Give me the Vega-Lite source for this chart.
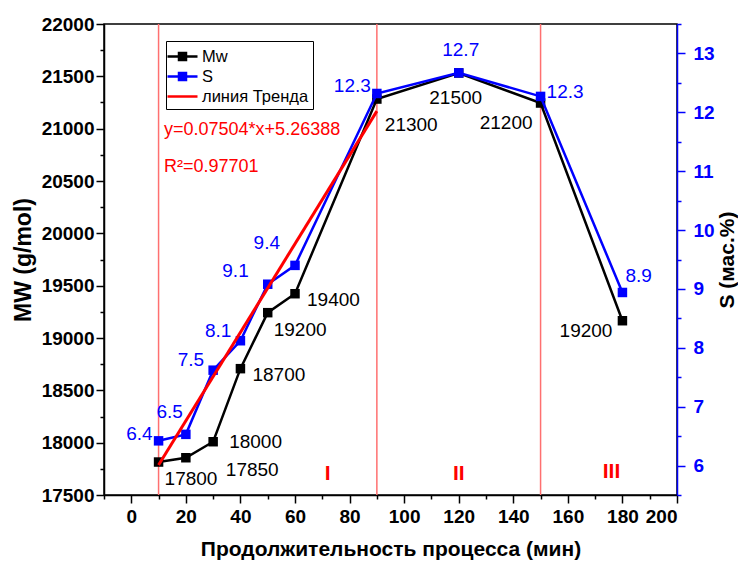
{
  "$schema": "https://vega.github.io/schema/vega-lite/v6.json",
  "width": 573,
  "height": 471,
  "autosize": {"type": "none"},
  "padding": {"left": 104, "top": 24, "right": 61, "bottom": 71},
  "background": "white",
  "config": {
    "font": "Liberation Sans",
    "view": {"stroke": "black", "strokeWidth": 1.5},
    "axis": {
      "grid": false,
      "domainColor": "black",
      "tickColor": "black",
      "labelFont": "Liberation Sans",
      "labelFontSize": 19,
      "labelFontWeight": "bold",
      "labelColor": "black",
      "titleFont": "Liberation Sans",
      "titleFontSize": 21,
      "titleFontWeight": "bold",
      "titleColor": "black",
      "domainWidth": 1.5,
      "tickWidth": 1.5
    }
  },
  "datasets": {
    "mw": [
      {"t": 10, "v": 17815, "label": "17800", "series": "Mw"},
      {"t": 20, "v": 17856, "label": "17850", "series": "Mw"},
      {"t": 30, "v": 18009, "label": "18000", "series": "Mw"},
      {"t": 40, "v": 18707, "label": "18700", "series": "Mw"},
      {"t": 50, "v": 19242, "label": "19200", "series": "Mw"},
      {"t": 60, "v": 19423, "label": "19400", "series": "Mw"},
      {"t": 90, "v": 21283, "label": "21300", "series": "Mw"},
      {"t": 120, "v": 21532, "label": "21500", "series": "Mw"},
      {"t": 150, "v": 21245, "label": "21200", "series": "Mw"},
      {"t": 180, "v": 19165, "label": "19200", "series": "Mw"}
    ],
    "s": [
      {"t": 10, "v": 6.42, "label": "6.4", "series": "S"},
      {"t": 20, "v": 6.53, "label": "6.5", "series": "S"},
      {"t": 30, "v": 7.62, "label": "7.5", "series": "S"},
      {"t": 40, "v": 8.12, "label": "8.1", "series": "S"},
      {"t": 50, "v": 9.08, "label": "9.1", "series": "S"},
      {"t": 60, "v": 9.4, "label": "9.4", "series": "S"},
      {"t": 90, "v": 12.32, "label": "12.3", "series": "S"},
      {"t": 120, "v": 12.67, "label": "12.7", "series": "S"},
      {"t": 150, "v": 12.27, "label": "12.3", "series": "S"},
      {"t": 180, "v": 8.94, "label": "8.9", "series": "S"}
    ],
    "trend": [
      {"t": 10, "v": 6.01, "series": "линия Тренда"},
      {"t": 90, "v": 12.02, "series": "линия Тренда"}
    ],
    "zones": [{"t": 10}, {"t": 90}, {"t": 150}],
    "roman": [
      {"t": 72, "v": 17700, "label": "I"},
      {"t": 120, "v": 17700, "label": "II"},
      {"t": 176, "v": 17720, "label": "III"}
    ],
    "notes": [
      {"t": 12, "v": 20987, "label": "y=0.07504*x+5.26388"},
      {"t": 12, "v": 20634, "label": "R²=0.97701"}
    ]
  },
  "encoding": {
    "x": {
      "field": "t",
      "type": "quantitative",
      "scale": {"domain": [-10, 200], "nice": false, "zero": false},
      "axis": {
        "values": [-10, 0, 10, 20, 30, 40, 50, 60, 70, 80, 90, 100, 110, 120, 130, 140, 150, 160, 170, 180, 190, 200],
        "labelExpr": "datum.value >= 0 && datum.value % 20 === 0 ? datum.label : ''",
        "tickSize": {"condition": {"test": "datum.value % 20 === 0", "value": 8}, "value": 4},
        "labelPadding": 4,
        "title": "Продолжительность процесса (мин)",
        "titlePadding": 12
      }
    }
  },
  "layer": [
    {
      "data": {"name": "zones"},
      "mark": {"type": "rule", "color": "#ff7070", "strokeWidth": 1.5},
      "encoding": {}
    },
    {
      "encoding": {
        "y": {
          "field": "v",
          "type": "quantitative",
          "scale": {"domain": [17500, 22000], "nice": false, "zero": false},
          "axis": {
            "orient": "left",
            "values": [17500, 17750, 18000, 18250, 18500, 18750, 19000, 19250, 19500, 19750, 20000, 20250, 20500, 20750, 21000, 21250, 21500, 21750, 22000],
            "format": "d",
            "labelExpr": "datum.value % 500 === 0 ? datum.label : ''",
            "tickSize": {"condition": {"test": "datum.value % 500 === 0", "value": 8}, "value": 4},
            "labelPadding": 2,
            "title": "MW (g/mol)",
            "titleFontSize": 23,
            "titlePadding": 6
          }
        }
      },
      "layer": [
        {
          "data": {"name": "mw"},
          "mark": {"type": "line", "strokeWidth": 2.5},
          "encoding": {
            "color": {
              "field": "series",
              "type": "nominal",
              "scale": {"domain": ["Mw", "S", "линия Тренда"], "range": ["#000000", "#0000ff", "#ff0000"]},
              "legend": {
                "title": null,
                "orient": "none",
                "legendX": 62,
                "legendY": 17,
                "fillColor": "white",
                "strokeColor": "black",
                "padding": 4,
                "labelFont": "Liberation Sans",
                "labelFontSize": 16.5,
                "labelColor": "black",
                "symbolSize": 400,
                "symbolStrokeWidth": 2.5,
                "rowPadding": 0,
                "labelOffset": 8,
                "symbolOffset": 1,
                "encode": {
                  "symbols": {
                    "update": {
                      "shape": {"signal": "datum.value === 'линия Тренда' ? 'M-1.5,0H1.5' : 'M-1.5,0H1.5M-0.35,-0.35H0.35V0.35H-0.35Z'"},
                      "stroke": {"scale": "color", "field": "value"},
                      "fill": {"scale": "color", "field": "value"},
                      "strokeWidth": {"value": 2.5}
                    }
                  }
                }
              }
            }
          }
        },
        {
          "data": {"name": "mw"},
          "mark": {"type": "square", "filled": true, "size": 90, "opacity": 1},
          "encoding": {"color": {"field": "series", "type": "nominal"}}
        },
        {
          "data": {"name": "mw"},
          "transform": [{"filter": {"field": "t", "oneOf": [10, 50]}}],
          "mark": {"type": "text", "align": "left", "baseline": "middle", "dx": 6, "dy": 17, "fontSize": 19, "color": "black"},
          "encoding": {"text": {"field": "label"}}
        },
        {
          "data": {"name": "mw"},
          "transform": [{"filter": {"field": "t", "oneOf": [40, 60]}}],
          "mark": {"type": "text", "align": "left", "baseline": "middle", "dx": 12, "dy": 6, "fontSize": 19, "color": "black"},
          "encoding": {"text": {"field": "label"}}
        },
        {
          "data": {"name": "mw"},
          "transform": [{"filter": {"field": "t", "oneOf": [30]}}],
          "mark": {"type": "text", "align": "left", "baseline": "middle", "dx": 16, "dy": 0, "fontSize": 19, "color": "black"},
          "encoding": {"text": {"field": "label"}}
        },
        {
          "data": {"name": "mw"},
          "transform": [{"filter": {"field": "t", "oneOf": [20]}}],
          "mark": {"type": "text", "align": "left", "baseline": "middle", "dx": 40, "dy": 12, "fontSize": 19, "color": "black"},
          "encoding": {"text": {"field": "label"}}
        },
        {
          "data": {"name": "mw"},
          "transform": [{"filter": {"field": "t", "oneOf": [90]}}],
          "mark": {"type": "text", "align": "left", "baseline": "middle", "dx": 8, "dy": 26, "fontSize": 19, "color": "black"},
          "encoding": {"text": {"field": "label"}}
        },
        {
          "data": {"name": "mw"},
          "transform": [{"filter": {"field": "t", "oneOf": [120]}}],
          "mark": {"type": "text", "align": "center", "baseline": "middle", "dx": -3, "dy": 25, "fontSize": 19, "color": "black"},
          "encoding": {"text": {"field": "label"}}
        },
        {
          "data": {"name": "mw"},
          "transform": [{"filter": {"field": "t", "oneOf": [150]}}],
          "mark": {"type": "text", "align": "right", "baseline": "middle", "dx": -8, "dy": 20, "fontSize": 19, "color": "black"},
          "encoding": {"text": {"field": "label"}}
        },
        {
          "data": {"name": "mw"},
          "transform": [{"filter": {"field": "t", "oneOf": [180]}}],
          "mark": {"type": "text", "align": "right", "baseline": "middle", "dx": -10, "dy": 10, "fontSize": 19, "color": "black"},
          "encoding": {"text": {"field": "label"}}
        },
        {
          "data": {"name": "roman"},
          "mark": {"type": "text", "align": "center", "baseline": "middle", "fontSize": 21, "fontWeight": "bold", "color": "#ff0000"},
          "encoding": {"text": {"field": "label"}}
        },
        {
          "data": {"name": "notes"},
          "mark": {"type": "text", "align": "left", "baseline": "middle", "fontSize": 18, "color": "#ff0000"},
          "encoding": {"text": {"field": "label"}}
        }
      ]
    },
    {
      "encoding": {
        "y": {
          "field": "v",
          "type": "quantitative",
          "scale": {"domain": [5.5, 13.5], "nice": false, "zero": false},
          "axis": {
            "orient": "right",
            "values": [5.5, 6, 6.5, 7, 7.5, 8, 8.5, 9, 9.5, 10, 10.5, 11, 11.5, 12, 12.5, 13, 13.5],
            "labelExpr": "datum.value % 1 === 0 ? format(datum.value, 'd') : ''",
            "tickSize": {"condition": {"test": "datum.value % 1 === 0", "value": 8}, "value": 4},
            "domainColor": "#0000ff",
            "tickColor": "#0000ff",
            "labelColor": "#0000ff",
            "labelPadding": 8,
            "title": "S (мас.%)",
            "titleFontSize": 21,
            "titleAngle": 270,
            "titleBaseline": "top",
            "titlePadding": 2
          }
        }
      },
      "layer": [
        {
          "data": {"name": "s"},
          "mark": {"type": "line", "strokeWidth": 2.5},
          "encoding": {"color": {"field": "series", "type": "nominal"}}
        },
        {
          "data": {"name": "s"},
          "mark": {"type": "square", "filled": true, "size": 90, "opacity": 1},
          "encoding": {"color": {"field": "series", "type": "nominal"}}
        },
        {
          "data": {"name": "trend"},
          "mark": {"type": "line", "strokeWidth": 3},
          "encoding": {"color": {"field": "series", "type": "nominal"}}
        },
        {
          "data": {"name": "s"},
          "transform": [{"filter": {"field": "t", "oneOf": [10, 90]}}],
          "mark": {"type": "text", "align": "right", "baseline": "middle", "dx": -6, "dy": -7, "fontSize": 19, "color": "#0000ff"},
          "encoding": {"text": {"field": "label"}}
        },
        {
          "data": {"name": "s"},
          "transform": [{"filter": {"field": "t", "oneOf": [20]}}],
          "mark": {"type": "text", "align": "right", "baseline": "middle", "dx": -3, "dy": -22, "fontSize": 19, "color": "#0000ff"},
          "encoding": {"text": {"field": "label"}}
        },
        {
          "data": {"name": "s"},
          "transform": [{"filter": {"field": "t", "oneOf": [30, 40]}}],
          "mark": {"type": "text", "align": "right", "baseline": "middle", "dx": -9, "dy": -10, "fontSize": 19, "color": "#0000ff"},
          "encoding": {"text": {"field": "label"}}
        },
        {
          "data": {"name": "s"},
          "transform": [{"filter": {"field": "t", "oneOf": [50]}}],
          "mark": {"type": "text", "align": "right", "baseline": "middle", "dx": -19, "dy": -13, "fontSize": 19, "color": "#0000ff"},
          "encoding": {"text": {"field": "label"}}
        },
        {
          "data": {"name": "s"},
          "transform": [{"filter": {"field": "t", "oneOf": [60]}}],
          "mark": {"type": "text", "align": "right", "baseline": "middle", "dx": -15, "dy": -22, "fontSize": 19, "color": "#0000ff"},
          "encoding": {"text": {"field": "label"}}
        },
        {
          "data": {"name": "s"},
          "transform": [{"filter": {"field": "t", "oneOf": [120]}}],
          "mark": {"type": "text", "align": "center", "baseline": "middle", "dx": 2, "dy": -23, "fontSize": 19, "color": "#0000ff"},
          "encoding": {"text": {"field": "label"}}
        },
        {
          "data": {"name": "s"},
          "transform": [{"filter": {"field": "t", "oneOf": [150]}}],
          "mark": {"type": "text", "align": "left", "baseline": "middle", "dx": 6, "dy": -4, "fontSize": 19, "color": "#0000ff"},
          "encoding": {"text": {"field": "label"}}
        },
        {
          "data": {"name": "s"},
          "transform": [{"filter": {"field": "t", "oneOf": [180]}}],
          "mark": {"type": "text", "align": "left", "baseline": "middle", "dx": 3, "dy": -16, "fontSize": 19, "color": "#0000ff"},
          "encoding": {"text": {"field": "label"}}
        }
      ]
    }
  ],
  "resolve": {"scale": {"y": "independent"}}
}
